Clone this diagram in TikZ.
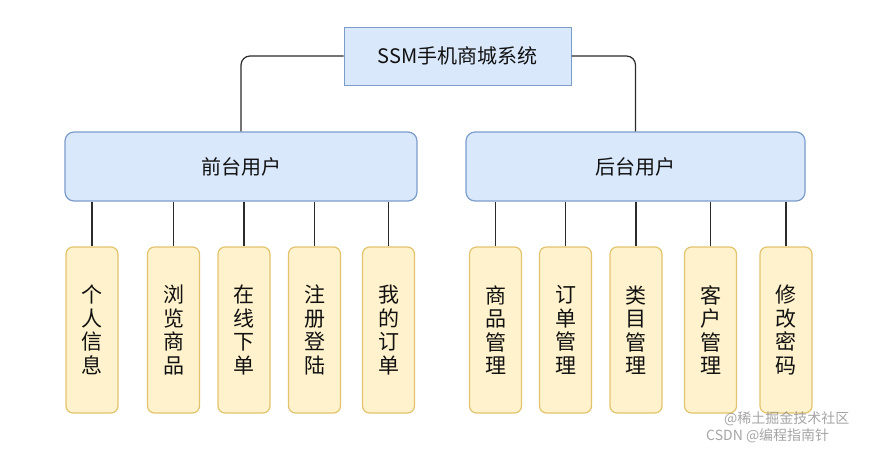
\documentclass[tikz,border=0pt]{standalone}
\usepackage{fontspec}
\newfontfamily\cjk{Noto Sans CJK SC}
\begin{document}
\begin{tikzpicture}[x=1pt,y=-1pt,
  topbox/.style={draw=midline, fill=topfill, line width=1pt, minimum width=227pt, minimum height=58pt, inner sep=0pt, font=\cjk\fontsize{20}{24}\selectfont, text=txt},
  midbox/.style={draw=midline, fill=topfill, line width=1.2pt, rounded corners=9pt, minimum height=69pt, inner sep=0pt, font=\cjk\fontsize{20}{24}\selectfont, text=txt},
  leafbox/.style={draw=leafline, fill=leaffill, line width=1.2pt, rounded corners=7pt, minimum width=52pt, minimum height=166pt, inner sep=0pt, align=center, font=\cjk\fontsize{21}{23.5}\selectfont, text=txt},
  conn/.style={draw=linecol, line width=1.2pt},
  wm/.style={text=gray, opacity=0.7, font=\cjk\fontsize{14}{16}\selectfont, inner sep=0pt, anchor=west}
]
\definecolor{topfill}{HTML}{DAE8FC}
\definecolor{midline}{HTML}{7C9CCB}
\definecolor{leaffill}{HTML}{FFF2CC}
\definecolor{leafline}{HTML}{E2C46E}
\definecolor{linecol}{HTML}{2B2B2B}
\definecolor{txt}{HTML}{111111}
\useasboundingbox[fill=white] (0,0) rectangle (890,448);

\node[topbox] (top) at (457.5,56) {SSM手机商城系统};
\node[midbox, minimum width=352pt] (fe) at (241,166.5) {前台用户};
\node[midbox, minimum width=339pt] (be) at (635.5,166.5) {后台用户};

\node[leafbox] (f1) at (92,330) {个\\人\\信\\息};
\node[leafbox] (f2) at (173.5,330) {浏\\览\\商\\品};
\node[leafbox] (f3) at (244,330) {在\\线\\下\\单};
\node[leafbox] (f4) at (314.5,330) {注\\册\\登\\陆};
\node[leafbox] (f5) at (388.5,330) {我\\的\\订\\单};

\node[leafbox] (b1) at (495.5,330) {商\\品\\管\\理};
\node[leafbox] (b2) at (565.5,330) {订\\单\\管\\理};
\node[leafbox] (b3) at (636,330) {类\\目\\管\\理};
\node[leafbox] (b4) at (710.5,330) {客\\户\\管\\理};
\node[leafbox] (b5) at (786,330) {修\\改\\密\\码};

\draw[conn, rounded corners=9pt] (top.west) -| (fe.north);
\draw[conn, rounded corners=9pt] (top.east) -| (be.north);

\foreach \n in {f1,f2,f3,f4,f5}{
  \draw[conn] (\n.north) -- (\n.north |- fe.south);
}
\foreach \n in {b1,b2,b3,b4,b5}{
  \draw[conn] (\n.north) -- (\n.north |- be.south);
}

\node[wm] (w1) at (724,419) {@稀土掘金技术社区};
\node[wm] (w2) at (706,436) {CSDN @编程指南针};
\end{tikzpicture}
\end{document}
